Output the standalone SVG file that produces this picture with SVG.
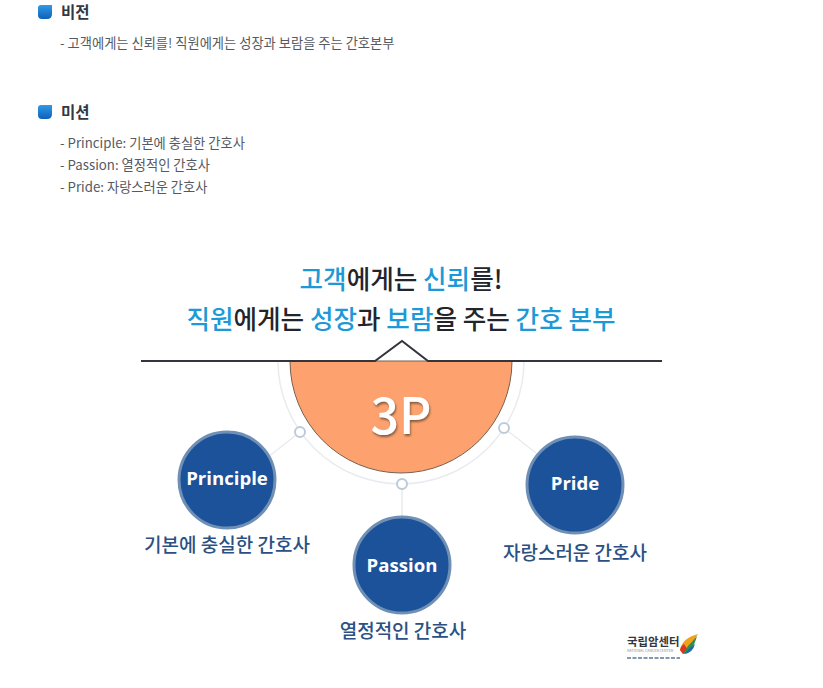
<svg xmlns="http://www.w3.org/2000/svg" width="823" height="688" viewBox="0 0 823 688">
<style>
text{font-family:"Noto Sans CJK KR","Noto Sans",sans-serif}
.h{font-size:15.5px;font-weight:700;fill:#333842}
.b{font-size:13.25px;fill:#555a62}
.t{font-size:25.6px;font-weight:500;fill:#22252b;text-anchor:middle}
.a{fill:#1c9ad8}
.n{fill:#1b5299;stroke:#6f8fb5;stroke-width:3}
.nt{font-family:"Open Sans","Noto Sans",sans-serif;font-size:18.6px;font-weight:700;fill:#fff;text-anchor:middle}
.c{font-size:19px;font-weight:500;fill:#2b5184;text-anchor:middle}
.link{stroke:#e8ebef;stroke-width:1.5;fill:none}
.dot{fill:#fff;stroke:#bccada;stroke-width:2}
</style>
<defs>
<linearGradient id="bu" x1="0" y1="0" x2="0" y2="1"><stop offset="0" stop-color="#2f9be8"/><stop offset="1" stop-color="#0f5fb8"/></linearGradient>
<filter id="sh" x="-20%" y="-20%" width="140%" height="140%"><feDropShadow dx="1" dy="2" stdDeviation="1.2" flood-color="#6b4a35" flood-opacity=".8"/></filter>
</defs>
<rect width="823" height="688" fill="#fff"/>
<g id="vision">
<path d="M38 8Q38 5 41 5H52V14Q52 19 47 19H42Q38 19 38 15Z" fill="url(#bu)"/>
<text class="h" x="61" y="18">비전</text>
<text class="b" x="60" y="48">- 고객에게는 신뢰를! 직원에게는 성장과 보람을 주는 간호본부</text>
</g>
<g id="mission">
<path d="M38 108Q38 105 41 105H52V114Q52 119 47 119H42Q38 119 38 115Z" fill="url(#bu)"/>
<text class="h" x="61" y="118">미션</text>
<text class="b" x="60" y="148">- Principle: 기본에 충실한 간호사</text>
<text class="b" x="60" y="170">- Passion: 열정적인 간호사</text>
<text class="b" x="60" y="192">- Pride: 자랑스러운 간호사</text>
</g>
<g id="headline">
<text class="t" x="401" y="289"><tspan class="a">고객</tspan>에게는 <tspan class="a">신뢰</tspan>를!</text>
<text class="t" x="401" y="329"><tspan class="a">직원</tspan>에게는 <tspan class="a">성장</tspan>과 <tspan class="a">보람</tspan>을 주는 <tspan class="a">간호 본부</tspan></text>
</g>
<g id="connectors">
<path class="link" d="M278 361A123 123 0 0 0 524 361" stroke-width="2"/>
<path class="link" d="M300 432L268 457M402 484V516M504 428L536 453"/>
</g>
<g id="hub">
<path d="M290 361A111 112 0 0 0 512 361Z" fill="#fda26e" stroke="#77604f" stroke-width="1"/>
<text x="401" y="434" font-family="'Open Sans','Noto Sans',sans-serif" font-size="50" font-weight="500" fill="#fff" text-anchor="middle" filter="url(#sh)">3P</text>
</g>
<g id="divider">
<path d="M141 361H375L402 341L428 361H662" fill="none" stroke="#33343c" stroke-width="2"/>
</g>
<g id="dots">
<circle class="dot" cx="300" cy="432" r="5"/>
<circle class="dot" cx="402" cy="484" r="5"/>
<circle class="dot" cx="504" cy="428" r="5"/>
</g>
<g id="principle">
<circle class="n" cx="227" cy="480" r="48"/>
<text class="nt" x="227" y="485">Principle</text>
<text class="c" x="227" y="552">기본에 충실한 간호사</text>
</g>
<g id="passion">
<circle class="n" cx="402" cy="565" r="48"/>
<text class="nt" x="402" y="572">Passion</text>
<text class="c" x="403" y="638">열정적인 간호사</text>
</g>
<g id="pride">
<circle class="n" cx="575" cy="485" r="48"/>
<text class="nt" x="575" y="490">Pride</text>
<text class="c" x="575" y="560">자랑스러운 간호사</text>
</g>
<g id="logo">
<text x="627" y="646" font-size="11.4" font-weight="700" fill="#33363c">국립암센터</text>
<text x="627" y="652" font-size="3.6" fill="#888">NATIONAL CANCER CENTER</text>
<path d="M627 658H680" stroke="#8497b0" stroke-width="2" stroke-dasharray="4 1.5"/>
<path d="M680 650Q682 638 698 634Q694 640 691 645L683 654Z" fill="#f0a21e"/>
<path d="M680 650L683 654L688 650L684 644Q681 646 680 650Z" fill="#d8352b"/>
<path d="M683 654Q692 654 697 636Q692 642 688 646Z" fill="#2c8f4a"/>
<path d="M685 654Q693 652 695 644L690 648Z" fill="#1e64b0"/>
</g>
</svg>
